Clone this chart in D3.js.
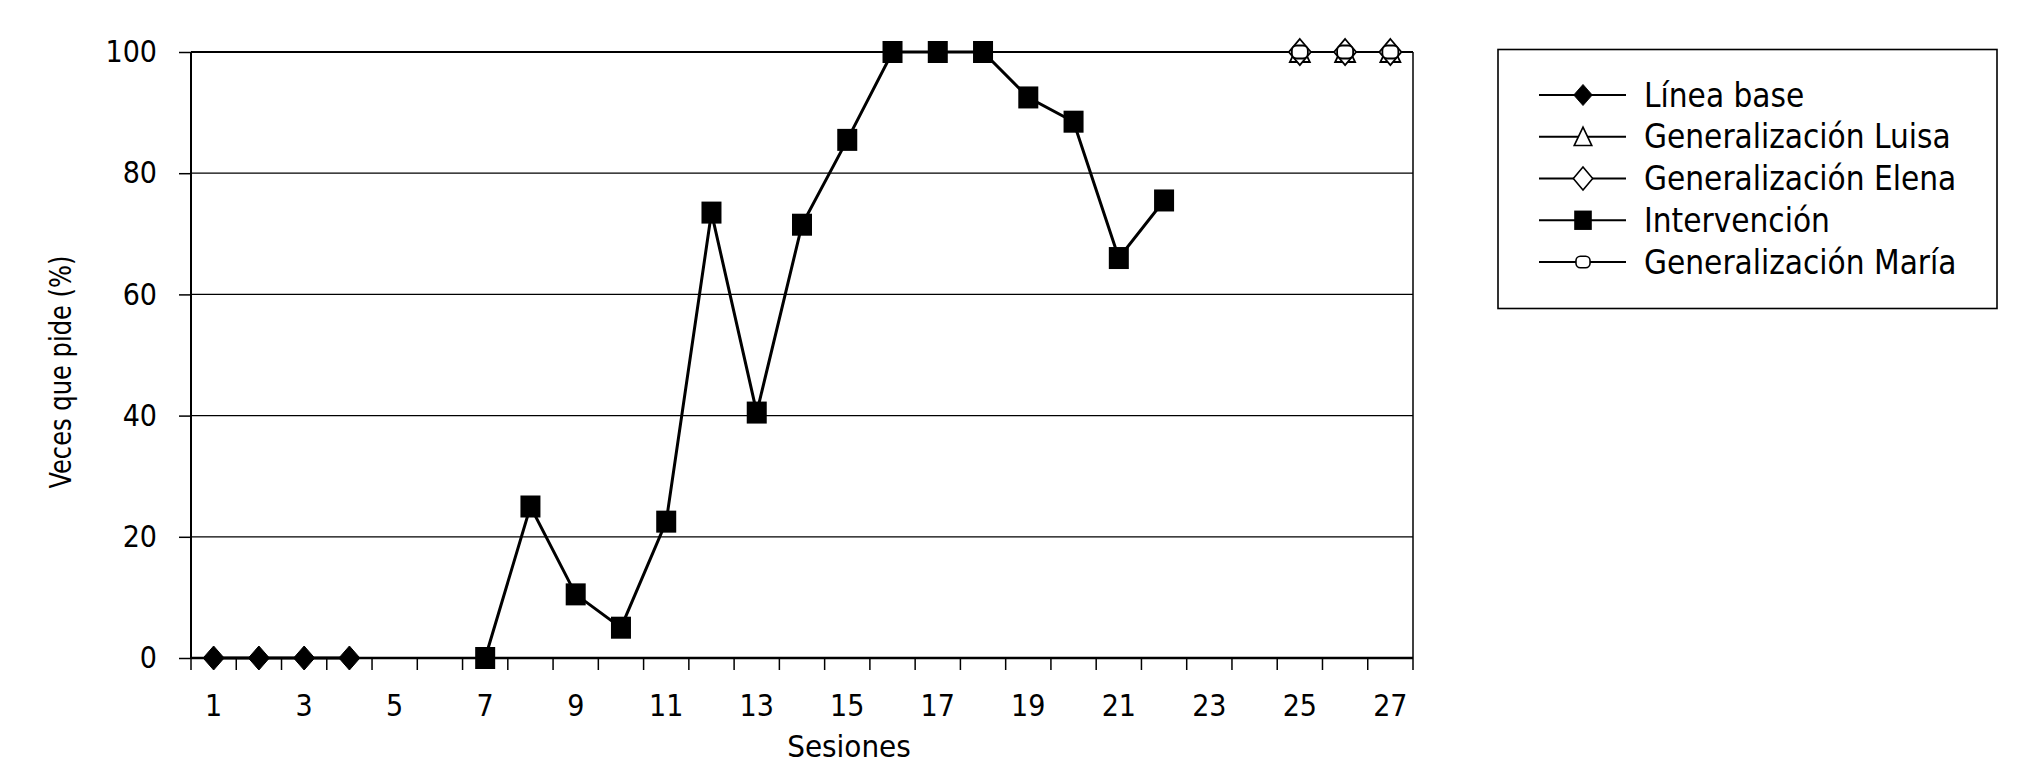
<!DOCTYPE html>
<html><head><meta charset="utf-8">
<script src="https://cdn.jsdelivr.net/npm/d3@7"></script>
<style>
body{margin:0;background:#fff}
text{font-family:'DejaVu Sans Condensed','DejaVu Sans',sans-serif;font-stretch:condensed;fill:#000}
</style>
</head><body><svg id="c" width="2033" height="783"></svg>
<script>
// ---- data ----
const sessions = [1,2,3,4,5,6,7,8,9,10,11,12,13,14,15,16,17,18,19,20,21,22,23,24,25,26,27];
const xTickLabels = [1,3,5,7,9,11,13,15,17,19,21,23,25,27];
const yTicks = [0,20,40,60,80,100];
const baseSessions = [1,2,3,4];
const baseValues = [0,0,0,0];
const luisaSessions = [25,26,27];
const luisaValues = [100,100,100];
const elenaSessions = [25,26,27];
const elenaValues = [100,100,100];
const intervSessions = [7,8,9,10,11,12,13,14,15,16,17,18,19,20,21,22];
const intervValues = [0,25,10.5,5,22.5,73.5,40.5,71.5,85.5,100,100,100,92.5,88.5,66,75.5];
const mariaSessions = [25,26,27];
const mariaValues = [100,100,100];
const legendLabels = ["Línea base","Generalización Luisa","Generalización Elena","Intervención","Generalización María"];
const yTitle = "Veces que pide (%)";
const xTitle = "Sesiones";

// ---- layout ----
const L = 191, R = 1413, T = 52, B = 658;
const svg = d3.select("#c");
const x = d3.scaleBand().domain(sessions).range([L, R]).padding(0);
const cx = s => x(s) + x.bandwidth()/2;
const y = d3.scaleLinear().domain([0,100]).range([B, T]);

// marker shapes
const shapes = {
  diamondFill: (g) => g.append("path").attr("d","M0,-12L10.5,0L0,12L-10.5,0Z").attr("fill","#000").attr("stroke","#000").attr("stroke-width",1),
  triangle: (g) => g.append("path").attr("d","M0,-11L10,10L-10,10Z").attr("fill","#fff").attr("stroke","#000").attr("stroke-width",1.8),
  diamondOpen: (g) => g.append("path").attr("d","M0,-13L11,0L0,13L-11,0Z").attr("fill","#fff").attr("stroke","#000").attr("stroke-width",1.8),
  square: (g) => g.append("rect").attr("x",-10).attr("y",-11).attr("width",20).attr("height",22).attr("fill","#000"),
  oval: (g) => g.append("rect").attr("x",-8).attr("y",-6.5).attr("width",16).attr("height",13).attr("rx",5).attr("fill","#fff").attr("stroke","#000").attr("stroke-width",1.8)
};

// gridlines
svg.append("g").selectAll("line").data(yTicks.filter(v => v > 0 && v < 100)).join("line")
  .attr("x1", L).attr("x2", R).attr("y1", d => y(d)).attr("y2", d => y(d))
  .attr("stroke","#000").attr("stroke-width",1.2);
// frame top & right
svg.append("line").attr("x1",L).attr("x2",R).attr("y1",y(100)).attr("y2",y(100)).attr("stroke","#000").attr("stroke-width",2);
svg.append("line").attr("x1",R).attr("x2",R).attr("y1",y(100)).attr("y2",y(0)).attr("stroke","#000").attr("stroke-width",1.5);

// y axis
const ya = svg.append("g").attr("transform",`translate(${L},0)`)
  .call(d3.axisLeft(y).tickValues(yTicks).tickSize(12).tickPadding(22));
ya.select(".domain").attr("stroke-width",2).attr("d",`M0,${T}V${B}`);
ya.selectAll(".tick line").attr("stroke-width",1.5);
ya.selectAll("text").attr("font-size",30).style("font-family","'DejaVu Sans Condensed','DejaVu Sans'");

// x axis (labels centered in bands, tick marks at band edges)
const xa = svg.append("g").attr("transform",`translate(0,${B})`)
  .call(d3.axisBottom(x).tickValues(xTickLabels).tickSize(0).tickPadding(37));
xa.select(".domain").remove();
xa.selectAll("text").attr("font-size",30).style("font-family","'DejaVu Sans Condensed','DejaVu Sans'");
svg.append("line").attr("x1",L).attr("x2",R).attr("y1",B).attr("y2",B).attr("stroke","#000").attr("stroke-width",2.5);
svg.append("g").selectAll("line").data(sessions.map(s => x(s)).concat([R])).join("line")
  .attr("x1", d => d).attr("x2", d => d).attr("y1", B).attr("y2", B + 12)
  .attr("stroke","#000").attr("stroke-width",1.5);

// titles
svg.append("text").attr("transform",`translate(71,372) rotate(-90)`).attr("text-anchor","middle")
  .attr("font-size",31).attr("textLength",233).attr("lengthAdjust","spacingAndGlyphs").text(yTitle);
svg.append("text").attr("x",849).attr("y",757).attr("text-anchor","middle")
  .attr("font-size",31).text(xTitle);

// series
const series = [
  {xs: baseSessions, ys: baseValues, shape: "diamondFill", w: 3},
  {xs: luisaSessions, ys: luisaValues, shape: "triangle", w: 2},
  {xs: elenaSessions, ys: elenaValues, shape: "diamondOpen", w: 2},
  {xs: intervSessions, ys: intervValues, shape: "square", w: 3},
  {xs: mariaSessions, ys: mariaValues, shape: "oval", w: 2}
];
const line = d3.line().x(d => cx(d[0])).y(d => y(d[1]));
series.forEach(s => {
  const pts = s.xs.map((v,i) => [v, s.ys[i]]);
  svg.append("path").attr("d", line(pts)).attr("fill","none").attr("stroke","#000").attr("stroke-width", s.w);
});
series.forEach(s => {
  s.xs.forEach((v,i) => {
    const g = svg.append("g").attr("transform",`translate(${cx(v)},${y(s.ys[i])})`);
    shapes[s.shape](g);
  });
});

// legend
const lg = svg.append("g");
lg.append("rect").attr("x",1498).attr("y",49.5).attr("width",499).attr("height",259)
  .attr("fill","#fff").attr("stroke","#000").attr("stroke-width",1.6);
const legendShapes = ["diamondFill","triangle","diamondOpen","square","oval"];
const legendY = d3.scalePoint().domain(legendLabels).range([95, 262]);
legendLabels.forEach((lab, i) => {
  const yy = legendY(lab);
  lg.append("line").attr("x1",1539).attr("x2",1626).attr("y1",yy).attr("y2",yy).attr("stroke","#000").attr("stroke-width",2);
  const g = lg.append("g").attr("transform",`translate(1583,${yy}) scale(0.88)`);
  shapes[legendShapes[i]](g);
  lg.append("text").attr("x",1644).attr("y",yy).attr("dy","0.35em").attr("font-size",33).text(lab);
});
</script>
</body></html>
